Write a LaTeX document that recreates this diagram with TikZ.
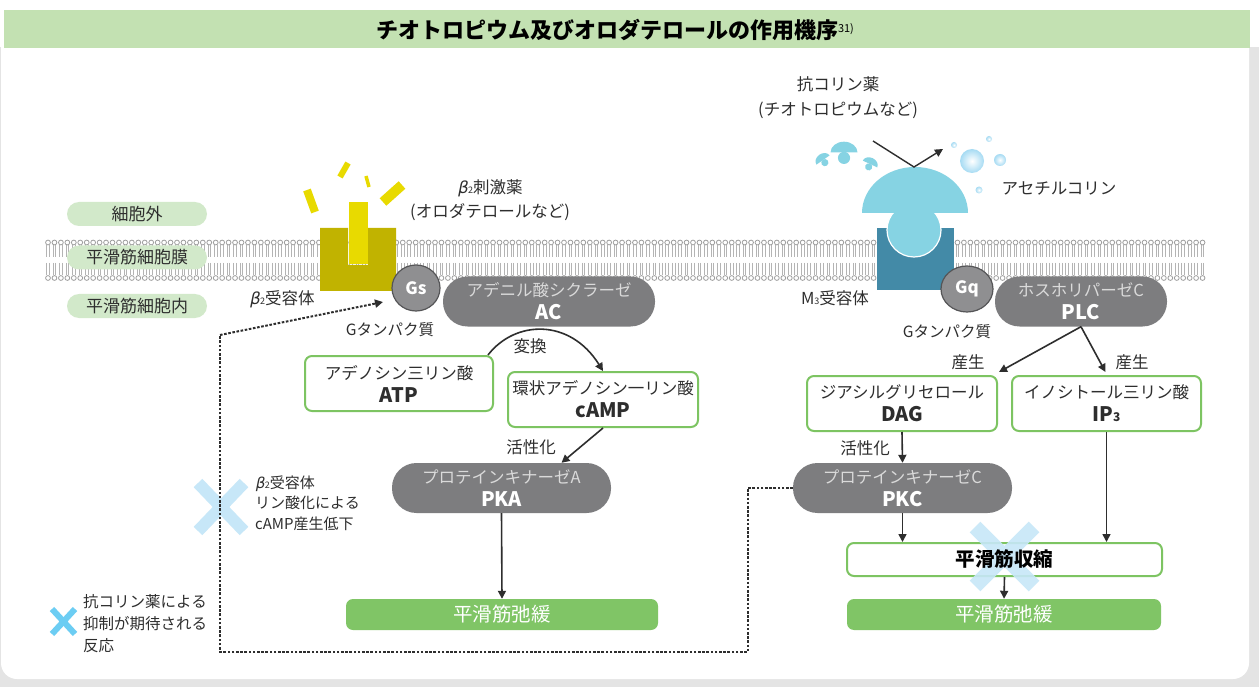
\documentclass[tikz,border=0pt]{standalone}
\usepackage{fontspec}
\setmainfont{Noto Sans CJK JP}
\newfontfamily\grk{DejaVu Sans}[FakeSlant=0.2]
\usetikzlibrary{arrows.meta,calc,shapes.geometric}
\definecolor{titlegreen}{HTML}{C3E1B2}
\definecolor{pillgreen}{HTML}{D2E9CA}
\definecolor{boxgreen}{HTML}{7DC462}
\definecolor{fillgreen}{HTML}{80C566}
\definecolor{enz}{HTML}{7D7D7F}
\definecolor{enztop}{HTML}{DADADA}
\definecolor{gprot}{HTML}{8F8F91}
\definecolor{gline}{HTML}{555557}
\definecolor{olive}{HTML}{C1B300}
\definecolor{yel}{HTML}{E8DA00}
\definecolor{teal2}{HTML}{438AA7}
\definecolor{cyan2}{HTML}{86D3E3}
\definecolor{achblue}{HTML}{A6DBF3}
\definecolor{xlight}{HTML}{C7E7F8}
\definecolor{xbright}{HTML}{6CCDF3}
\definecolor{txt}{HTML}{2E2E2E}
\definecolor{lipidhead}{HTML}{9E9E9E}
\definecolor{lipidtail}{HTML}{B4B4B4}
\definecolor{shadowgray}{HTML}{E4E4E4}
\newcommand\fs[1]{\fontsize{#1}{#1}\selectfont}
\newcommand\bt{{\grk β}}
\newcommand\subs[1]{{\fontsize{9}{9}\selectfont #1}}
\tikzset{
  lbl/.style={text=txt, font=\fs{16.5}, inner sep=0},
  pill/.style={fill=pillgreen, rounded corners=12, minimum width=140, minimum height=24, inner sep=0, text=txt, font=\fs{17}},
  enzyme/.style={fill=enz, rounded corners=24.5, minimum height=50, inner sep=0, align=center, text=white, font=\fontsize{16.5}{23}\selectfont},
  gbox/.style={draw=boxgreen, line width=2, fill=white, rounded corners=7, inner sep=0, align=center, text=txt, font=\fontsize{16.5}{23}\selectfont, minimum height=55},
  relax/.style={fill=fillgreen, rounded corners=7, inner sep=0, text=white, font=\fs{19.5}, minimum height=31},
  gprotein/.style={ellipse, fill=gprot, draw=gline, line width=1.2, inner sep=0, text=white, font=\bfseries\fs{17}},
  arr/.style={-{Triangle[length=8pt,width=8pt]}, line width=1.6, draw=txt},
  dots/.style={dash pattern=on 2.6pt off 1.6pt, line width=2, draw=txt},
  mush/.pic={\fill[cyan2] (-1,0) arc[start angle=180,end angle=360,x radius=1,y radius=0.8] -- cycle;
             \fill[cyan2] (0,0.4) circle (0.45);}
}
\begin{document}
\begin{tikzpicture}[x=1pt,y=-1pt]
\useasboundingbox (0,0) rectangle (1259,687);
% background panel
\fill[shadowgray] (0,47) rectangle (1259,687);
\fill[white] (0,0) rectangle (1259,47);
\fill[white,rounded corners=16] (1,-20) rectangle (1249,679);
\fill[titlegreen] (4,10) rectangle (1250,48);
\node[text=black, font=\bfseries\fs{22}, inner sep=0] (title) at (615,29.5) {チオトロピウム及びオロダテロールの作用機序\raisebox{6pt}{\mdseries\fs{11}31)}};
% membrane
\foreach \i in {0,...,179}{
  \pgfmathsetmacro\xx{48+6.45*\i}
  \draw[lipidtail, line width=0.9] (\xx-1.3,245) -- (\xx-1.3,257.5) (\xx+1.3,245) -- (\xx+1.3,257.5)
        (\xx-1.3,263) -- (\xx-1.3,275.5) (\xx+1.3,263) -- (\xx+1.3,275.5);
  \path[draw=lipidhead, line width=0.8, fill=white] (\xx,242.5) circle (2.4) (\xx,278) circle (2.4);
}
% left region labels
\node[pill] (ext) at (137,214) {細胞外};
\node[pill] (mem) at (137,257.5) {平滑筋細胞膜};
\node[pill] (intc) at (137,306) {平滑筋細胞内};
% beta2 receptor
\fill[olive] (320,228) -- (348,228) -- (348,265) -- (368,265) -- (368,228) -- (396,228) -- (396,291) -- (320,291) -- cycle;
\fill[yel] (348.5,202) rectangle (367.5,264);
\draw[yel, line width=8] (307,190) -- (315,212);
\draw[yel, line width=6] (348,163) -- (340,177);
\draw[yel, line width=3.5] (366,176) -- (369,187);
\draw[yel, line width=10] (402,185) -- (383,202);
\node[gprotein, minimum width=48, minimum height=46] (Gs) at (416,288) {Gs};
\node[enzyme, minimum width=212] (AC) at (549,301.5) {{\color{enztop}アデニル酸シクラーゼ}\\{\bfseries\fs{20}AC}};
\node[lbl] (b2rec) at (282,299) {\bt\subs{2}受容体};
\node[lbl, font=\fs{15.5}] (gsl) at (390,330) {Gタンパク質};
\node[lbl, align=center, font=\fontsize{16.5}{24}\selectfont] (b2ag) at (490,200) {\bt\subs{2}刺激薬\\(オロダテロールなど)};
% M3 receptor
\fill[teal2] (877,228) rectangle (954,290);
\filldraw[fill=cyan2, draw=white, line width=1.2] (914,230) circle (27);
\fill[cyan2] (862,213) arc[start angle=180, end angle=360, x radius=53, y radius=46] -- cycle;
\pic[scale=13.5] at (844,152.5) {mush};
\pic[scale=8, rotate=35] at (823,160) {mush};
\pic[scale=8, rotate=-25] at (870,164) {mush};
\shade[inner color=white, outer color=achblue] (972,161) circle (12);
\shade[inner color=white, outer color=achblue] (1000,160) circle (6);
\shade[inner color=white, outer color=achblue] (954,145) circle (3);
\shade[inner color=white, outer color=achblue] (989,139) circle (3);
\shade[inner color=white, outer color=achblue] (979,190) circle (3.5);
\coordinate (antA) at (873,141);
\coordinate (domeTop) at (914,167);
\coordinate (antB) at (943,149);
\draw[arr, line width=1.4] (antA) -- (domeTop) -- (antB);
\node[lbl, align=center, font=\fontsize{16.5}{25}\selectfont] (antilab) at (838,97.5) {抗コリン薬\\(チオトロピウムなど)};
\node[lbl] (achl) at (1059,188) {アセチルコリン};
\node[gprotein, minimum width=52, minimum height=46] (Gq) at (967,289) {Gq};
\node[enzyme, minimum width=172] (PLC) at (1081,301.5) {{\color{enztop}ホスホリパーゼC}\\{\bfseries\fs{20}PLC}};
\node[lbl] (m3rec) at (835,298) {M\subs{3}受容体};
\node[lbl, font=\fs{15.5}] (gql) at (947,332) {Gタンパク質};
% left cascade
\node[gbox, minimum width=188] (ATP) at (399,383.5) {アデノシン三リン酸\\{\bfseries\fs{20}ATP}};
\node[gbox, minimum width=190] (cAMP) at (603,399.5) {環状アデノシン一リン酸\\{\bfseries\fs{20}cAMP}};
\node[enzyme, minimum width=219] (PKA) at (501.5,488) {{\color{enztop}プロテインキナーゼA}\\{\bfseries\fs{20}PKA}};
\node[relax, minimum width=312] (relaxL) at (502,614.5) {平滑筋弛緩};
\draw[arr] ($(ATP.north east)+(-6,0)$) .. controls (515,320) and (570,318) .. (cAMP.north);
\node[lbl] (conv) at (530,346) {変換};
\draw[arr] (cAMP.south) -- ($(PKA.north)+(60,0)$);
\node[lbl] (actL) at (531,447) {活性化};
\draw[arr] (PKA.south) -- (relaxL.north);
% right cascade
\node[gbox, minimum width=190] (DAG) at (902,403.5) {ジアシルグリセロール\\{\bfseries\fs{20}DAG}};
\node[gbox, minimum width=189] (IP3) at (1106.5,403.5) {イノシトール三リン酸\\{\bfseries\fs{20}IP\fs{12}3}};
\node[enzyme, minimum width=219] (PKC) at (902.5,488) {{\color{enztop}プロテインキナーゼC}\\{\bfseries\fs{20}PKC}};
\node[gbox, minimum width=315, minimum height=33] (contr) at (1004.5,559.5) {};
\node[relax, minimum width=314] (relaxR) at (1004,614.5) {平滑筋弛緩};
\draw[arr] (PLC.south) -- ($(DAG.north east)+(1,-3)$);
\draw[arr] (PLC.south) -- ($(IP3.north)+(-1,-3)$);
\node[lbl] (prodL) at (968,362) {産生};
\node[lbl] (prodR) at (1132,362) {産生};
\draw[arr] (DAG.south) -- (PKC.north);
\node[lbl] (actR) at (865,448) {活性化};
\draw[arr] (PKC.south) -- (PKC.south |- contr.north);
\draw[arr] (IP3.south) -- (IP3.south |- contr.north);
\draw[arr] (contr.south) -- (relaxR.north);
% inhibition marks
\draw[xlight, line width=15, opacity=0.9] (975,527) -- (1034,586) (975,586) -- (1034,527);
\node[lbl, text=black, font=\bfseries\fs{19.5}] (contrT) at (contr.center) {平滑筋収縮};
\draw[xlight, line width=12] (198,483) -- (244,531) (198,531) -- (244,483);
\node[lbl, anchor=west, align=left, font=\fontsize{15}{20.5}\selectfont] (phos) at (255,503) {\bt\subs{2}受容体\\リン酸化による\\cAMP産生低下};
% dotted feedback
\coordinate (gsTarget) at (383,302);
\draw[dots] (PKC.west) -- ++(-45,0) -- ++(0,164) -- (220,652) -- (220,335);
\draw[dots, -{Triangle[length=8pt,width=8pt]}] (220,335) -- (gsTarget);
% legend
\draw[xbright, line width=6] (52,609) -- (75,634) (52,634) -- (75,609);
\node[lbl, anchor=west, align=left, font=\fontsize{15.5}{22}\selectfont] (legend) at (83,624) {抗コリン薬による\\抑制が期待される\\反応};
\end{tikzpicture}
\end{document}
